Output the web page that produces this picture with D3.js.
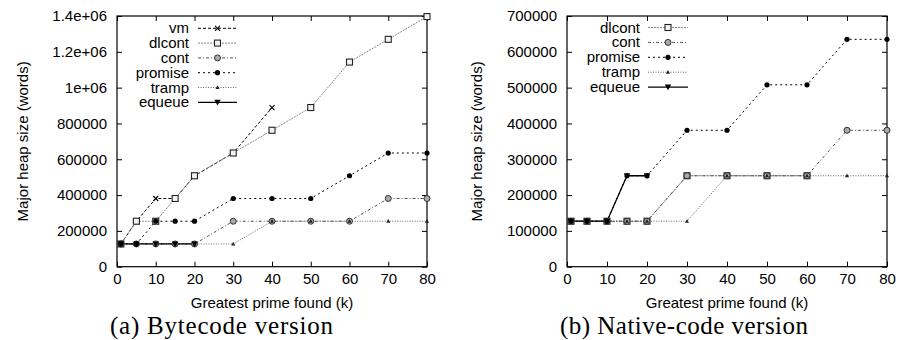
<!DOCTYPE html>
<html><head><meta charset="utf-8">
<script src="https://cdn.jsdelivr.net/npm/d3@7"></script>
<style>
body{margin:0;background:#fff;}
svg{display:block;}
</style></head>
<body>
<svg id="chart" width="898" height="340"></svg>
<script>
// ---------- data ----------
const primes = [1, 5, 10, 15, 20, 30, 40, 50, 60, 70, 80];
const xTicks = [0, 10, 20, 30, 40, 50, 60, 70, 80];

const yTicksA = [0, 200000, 400000, 600000, 800000, 1000000, 1200000, 1400000];
const yLabelsA = ["0", "200000", "400000", "600000", "800000", "1e+06", "1.2e+06", "1.4e+06"];
const yTicksB = [0, 100000, 200000, 300000, 400000, 500000, 600000, 700000];
const yLabelsB = ["0", "100000", "200000", "300000", "400000", "500000", "600000", "700000"];

// (a) Bytecode version
const vmA      = [126976, 253952, 380928, 380928, 507904, 634880, 888832];
const dlcontA  = [126976, 253952, 253952, 380928, 507904, 634880, 761856, 888832, 1142784, 1269760, 1396736];
const contA    = [126976, 126976, 126976, 126976, 126976, 253952, 253952, 253952, 253952, 380928, 380928];
const promiseA = [126976, 126976, 253952, 253952, 253952, 380928, 380928, 380928, 507904, 634880, 634880];
const trampA   = [126976, 126976, 126976, 126976, 126976, 126976, 253952, 253952, 253952, 253952, 253952];
const equeueA  = [126976, 126976, 126976, 126976, 126976];

// (b) Native-code version
const dlcontB  = [126976, 126976, 126976, 126976, 126976, 253952, 253952, 253952, 253952];
const contB    = [126976, 126976, 126976, 126976, 126976, 253952, 253952, 253952, 253952, 380928, 380928];
const promiseB = [126976, 126976, 126976, 253952, 253952, 380928, 380928, 507904, 507904, 634880, 634880];
const trampB   = [126976, 126976, 126976, 126976, 126976, 126976, 253952, 253952, 253952, 253952, 253952];
const equeueB  = [126976, 126976, 126976, 253952, 253952];

const xTitle = "Greatest prime found (k)";
const yTitle = "Major heap size (words)";
const captionA = "(a) Bytecode version";
const captionB = "(b) Native-code version";

// ---------- styles ----------
const SANS = "'Liberation Sans', Arial, Helvetica, sans-serif";
const SERIF = "'Liberation Serif', 'Times New Roman', serif";
const styles = {
  vm:      {stroke:"#000", dash:"3,2", marker:"cross"},
  dlcont:  {stroke:"#888", dash:"2,1", marker:"square"},
  cont:    {stroke:"#555", dash:"3,2,1,2", marker:"circle"},
  promise: {stroke:"#000", dash:"2,3", marker:"dot"},
  tramp:   {stroke:"#666", dash:"1,1.5", marker:"tri"},
  equeue:  {stroke:"#000", dash:null, marker:"dtri"}
};

const svg = d3.select("#chart");

function drawMarker(g, type, cx, cy) {
  if (type === "cross") {
    g.append("path").attr("d", `M${cx-2.5},${cy-2.5}L${cx+2.5},${cy+2.5}M${cx-2.5},${cy+2.5}L${cx+2.5},${cy-2.5}`)
      .attr("stroke", "#000").attr("stroke-width", 1.1).attr("fill", "none");
  } else if (type === "square") {
    g.append("rect").attr("x", cx-3).attr("y", cy-3).attr("width", 6).attr("height", 6)
      .attr("fill", "#f4f4f4").attr("stroke", "#222").attr("stroke-width", 1.1);
  } else if (type === "circle") {
    g.append("circle").attr("cx", cx).attr("cy", cy).attr("r", 3)
      .attr("fill", "#aaa").attr("stroke", "#333").attr("stroke-width", 1);
  } else if (type === "dot") {
    g.append("circle").attr("cx", cx).attr("cy", cy).attr("r", 2.6).attr("fill", "#000");
  } else if (type === "tri") {
    g.append("path").attr("d", `M${cx},${cy-2.2}L${cx+2},${cy+1.5}L${cx-2},${cy+1.5}Z`).attr("fill", "#222");
  } else if (type === "dtri") {
    g.append("path").attr("d", `M${cx-3.2},${cy-2.5}L${cx+3.2},${cy-2.5}L${cx},${cy+3.2}Z`).attr("fill", "#000");
  }
}

function panel(cfg) {
  const x = d3.scaleLinear().domain([0, 80]).range([cfg.x0, cfg.x1]);
  const y = d3.scaleLinear().domain([0, cfg.yMax]).range([cfg.y1, cfg.y0]);
  const g = svg.append("g");

  const fmt = d => cfg.yLabels[cfg.yTicks.indexOf(d)];
  // axes (ticks inward, mirrored)
  const left = g.append("g").attr("transform", `translate(${cfg.x0},0)`)
    .call(d3.axisLeft(y).tickValues(cfg.yTicks).tickFormat(fmt).tickSize(-5).tickSizeOuter(0).tickPadding(10));
  const right = g.append("g").attr("transform", `translate(${cfg.x1},0)`)
    .call(d3.axisRight(y).tickValues(cfg.yTicks).tickFormat("").tickSize(-5).tickSizeOuter(0));
  const bottom = g.append("g").attr("transform", `translate(0,${cfg.y1})`)
    .call(d3.axisBottom(x).tickValues(xTicks).tickSize(-5).tickSizeOuter(0).tickPadding(4));
  const top = g.append("g").attr("transform", `translate(0,${cfg.y0})`)
    .call(d3.axisTop(x).tickValues(xTicks).tickFormat("").tickSize(-5).tickSizeOuter(0));
  [left, right, bottom, top].forEach(a => {
    a.select(".domain").remove();
    a.selectAll("line").attr("stroke", "#000");
    a.selectAll("text").style("font-size", "15px").style("font-family", SANS).attr("fill", "#000");
  });
  bottom.selectAll("text").attr("dy", "0.9em");

  g.append("rect").attr("x", cfg.x0).attr("y", cfg.y0)
    .attr("width", cfg.x1 - cfg.x0).attr("height", cfg.y1 - cfg.y0)
    .attr("fill", "none").attr("stroke", "#000").attr("stroke-width", 1.2);

  // series
  const line = d3.line().x((d, i) => x(primes[i])).y(d => y(d));
  cfg.series.forEach(s => {
    const st = styles[s.name];
    g.append("path").attr("d", line(s.values)).attr("fill", "none")
      .attr("stroke", st.stroke).attr("stroke-width", s.name === "equeue" ? 1.3 : 1)
      .attr("stroke-dasharray", st.dash);
  });
  cfg.series.forEach(s => {
    const st = styles[s.name];
    s.values.forEach((v, i) => drawMarker(g, st.marker, x(primes[i]), y(v)));
  });

  // legend
  cfg.series.forEach((s, i) => {
    const st = styles[s.name];
    const ly = cfg.legY + i * cfg.legDy;
    g.append("text").attr("x", cfg.legTextX).attr("y", ly + 5).attr("text-anchor", "end")
      .style("font-size", "15px").style("font-family", SANS).text(s.name);
    g.append("line").attr("x1", cfg.legL0).attr("x2", cfg.legL1).attr("y1", ly).attr("y2", ly)
      .attr("stroke", st.stroke).attr("stroke-width", s.name === "equeue" ? 1.3 : 1)
      .attr("stroke-dasharray", st.dash);
    drawMarker(g, st.marker, (cfg.legL0 + cfg.legL1) / 2, ly);
  });

  // titles
  g.append("text").attr("x", (cfg.x0 + cfg.x1) / 2).attr("y", 308).attr("text-anchor", "middle")
    .style("font-size", "15px").style("font-family", SANS).text(xTitle);
  g.append("text").attr("transform", `translate(${cfg.yTitleX},${(cfg.y0 + cfg.y1) / 2}) rotate(-90)`)
    .attr("text-anchor", "middle").style("font-size", "15px").style("font-family", SANS).text(yTitle);
  g.append("text").attr("x", cfg.capX).attr("y", 334).attr("text-anchor", "middle")
    .style("font-family", SERIF).style("font-size", "25px")
    .attr("textLength", cfg.capLen).attr("lengthAdjust", "spacing").text(cfg.caption);
}

panel({
  x0: 117, x1: 427, y0: 16, y1: 266.7, yMax: 1400000,
  yTicks: yTicksA, yLabels: yLabelsA, yTitleX: 28,
  legY: 28.3, legDy: 14.8, legTextX: 189, legL0: 198, legL1: 237,
  caption: captionA, capX: 221.5, capLen: 223,
  series: [
    {name: "vm", values: vmA},
    {name: "dlcont", values: dlcontA},
    {name: "cont", values: contA},
    {name: "promise", values: promiseA},
    {name: "tramp", values: trampA},
    {name: "equeue", values: equeueA}
  ]
});

panel({
  x0: 567, x1: 887, y0: 16, y1: 266.7, yMax: 700000,
  yTicks: yTicksB, yLabels: yLabelsB, yTitleX: 482,
  legY: 27.5, legDy: 14.9, legTextX: 640, legL0: 648, legL1: 688,
  caption: captionB, capX: 684, capLen: 248,
  series: [
    {name: "dlcont", values: dlcontB},
    {name: "cont", values: contB},
    {name: "promise", values: promiseB},
    {name: "tramp", values: trampB},
    {name: "equeue", values: equeueB}
  ]
});
</script>
</body></html>
